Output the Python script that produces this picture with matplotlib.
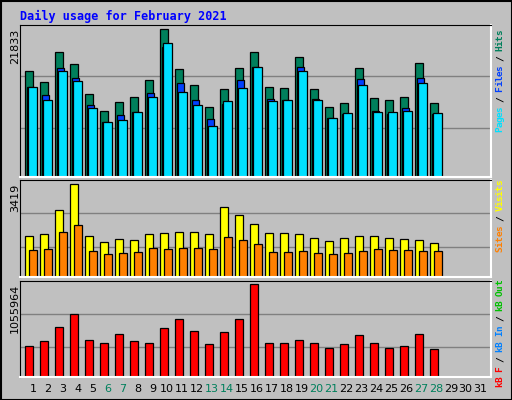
import matplotlib
matplotlib.use("Agg")
import matplotlib.pyplot as plt
from matplotlib.patches import Rectangle
import numpy as np

days = list(range(1, 32))
hits = [15610,13980,18426,16648,12350,9831,11164,11905,14277,21833,15907,13536,10423,13091,16055,18426,13387,13239,17685,13091,10423,11016,16055,11757,11461,11905,16796,11016]
files = [13387,12202,16055,14573,10720,8200,9238,9682,12498,19167,13832,11461,8645,10868,14277,16203,11609,11461,16203,11609,8793,9386,14425,9831,9386,10275,14573,9386]
pages = [13387,11461,15610,14128,10275,8200,8497,9682,11905,19760,12646,10720,7608,11313,13239,16203,11313,11461,15610,11461,8793,9534,13536,9682,9682,9831,13832,9534]
visits = [1524,1598,2453,3419,1524,1301,1412,1375,1598,1635,1673,1673,1598,2565,2267,1933,1635,1635,1598,1450,1338,1450,1524,1524,1450,1412,1375,1264]
sites = [1004,1041,1673,1896,966,855,892,929,1078,1041,1078,1078,1041,1487,1375,1227,929,929,966,892,855,892,966,1041,1004,1004,966,966]
kbytes = [350700,408500,570400,720700,420100,385400,489500,408500,385400,558800,662900,524100,373800,512600,662900,1055964,385400,385400,420100,385400,327600,373800,477900,385400,327600,350700,489500,316000]
weekends = [6,7,13,14,20,21,27,28]

W, H = 512, 400
fig = plt.figure(figsize=(W/100, H/100), dpi=100)
fig.patch.set_facecolor("#C0C0C0")
fig.patches.append(Rectangle((0.5/W, 0.5/H), 1-1/W, 1-1/H, transform=fig.transFigure,
                             fill=False, ec="black", lw=1.5))
MONO = "DejaVu Sans Mono"
fig.text(20/W, 1-16/H, "Daily usage for February 2021", color="#0000FF",
         family=MONO, weight="bold", fontsize=8.5, va="center", ha="left")

XMAX = 471/15.0

def mkax(top, bottom, ytop, grids):
    ax = fig.add_axes([20/W, 1-bottom/H, 471/W, (bottom-top)/H])
    ax.set_facecolor("#C0C0C0")
    ax.set_xlim(0, XMAX)
    ax.set_ylim(0, ytop)
    ax.set_xticks([]); ax.set_yticks([])
    for g in grids:
        ax.axhline(g, color="#808080", lw=1, zorder=0)
    for s in ("left", "top"):
        ax.spines[s].set_color("black")
    for s in ("right", "bottom"):
        ax.spines[s].set_color("white")
        ax.spines[s].set_linewidth(1.5)
    return ax

x = np.arange(len(hits))

def bars(ax, vals, o0, o1, color):
    ax.bar(x + o0, vals, width=o1-o0, align="edge", color=color,
           edgecolor="black", lw=0.9, zorder=2)

ax1 = mkax(25, 177, 22485, [14868, 7311])
bars(ax1, hits, 0.35, 0.85, "#00805C")
bars(ax1, files, 0.49, 0.95, "#0040FF")
bars(ax1, pages, 0.55, 1.11, "#00E0FF")

ax2 = mkax(180, 277, 3568, [2342, 1115])
bars(ax2, visits, 0.35, 0.85, "#FFFF00")
bars(ax2, sites, 0.62, 1.11, "#FF8000")

ax3 = mkax(281, 377, 1095000, [720700, 339150])
bars(ax3, kbytes, 0.35, 0.85, "#FF0000")

for ax, txt, ypix in ((ax1, "21833", 29), (ax2, "3419", 184), (ax3, "1055964", 284)):
    fig.text(15/W, 1-ypix/H, txt, rotation=90, ha="center", va="top",
             family="DejaVu Sans", fontsize=8)

def rlabel(parts, ytop):
    # parts listed bottom to top; placed character by character from the top
    s = "".join(p[0] for p in parts)
    cols = "".join("".join(chr(i) for _ in p[0]) for i, p in enumerate(parts))
    ch = 5.1
    y = ytop
    for k in range(len(s)-1, -1, -1):
        c = parts[ord(cols[k])][1]
        if s[k] != " ":
            fig.text(500/W, 1-(y+ch/2)/H, s[k], rotation=90, color=c, family=MONO,
                     weight="bold", fontsize=6.8, ha="center", va="center")
        y += ch

rlabel([("Pages", "#00E0FF"), (" / ", "#000000"), ("Files", "#0040FF"),
        (" / ", "#000000"), ("Hits", "#00805C")], 30)
rlabel([("Sites", "#FF8000"), (" / ", "#000000"), ("Visits", "#FFFF00")], 180)
rlabel([("kB F", "#FF0000"), (" / ", "#000000"), ("kB In", "#0080FF"),
        (" / ", "#000000"), ("kB Out", "#00C000")], 280)

for d in days:
    xp = 20 + (d-1)*14.92 + 13
    fig.text(xp/W, 1-389/H, str(d), ha="center", va="center", fontsize=8,
             family="DejaVu Sans", color="#00805C" if d in weekends else "black")

fig.savefig("out.png", dpi=100, facecolor=fig.get_facecolor())
